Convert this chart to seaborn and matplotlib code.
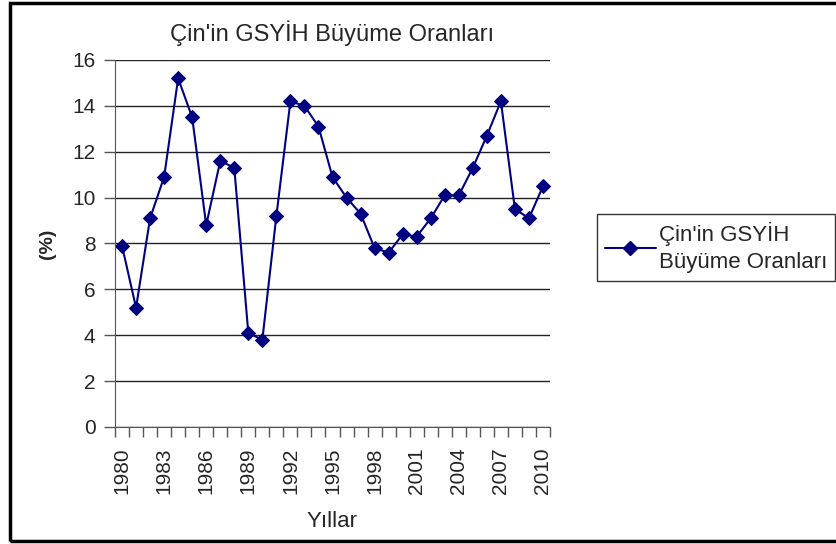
import numpy as np
import pandas as pd
import matplotlib
matplotlib.use("Agg")
import matplotlib.pyplot as plt
import seaborn as sns
from matplotlib.lines import Line2D
from matplotlib.ticker import MultipleLocator

# data
years = list(range(1980, 2011))
growth = [7.9, 5.2, 9.1, 10.9, 15.2, 13.5, 8.8, 11.6, 11.3, 4.1, 3.8,
          9.2, 14.2, 14.0, 13.1, 10.9, 10.0, 9.3, 7.8, 7.6, 8.4,
          8.3, 9.1, 10.1, 10.1, 11.3, 12.7, 14.2, 9.5, 9.1, 10.5]
label_years = [1980, 1983, 1986, 1989, 1992, 1995, 1998, 2001, 2004, 2007, 2010]
y_ticks = [0, 2, 4, 6, 8, 10, 12, 14, 16]

series_name = "Çin'in GSYİH Büyüme Oranları"
legend_label = "Çin'in GSYİH\nBüyüme Oranları"

df = pd.DataFrame({"year": years, "growth": growth})

sns.set_style("white")
plt.rcParams['font.family'] = ['Liberation Sans', 'DejaVu Sans']

fig = plt.figure(figsize=(8.36, 5.44), dpi=100)
ax = fig.add_axes([115/836, 1 - 427/544, (550 - 115)/836, (427 - 60)/544])

sns.lineplot(data=df, x="year", y="growth", ax=ax, color="#000080",
             marker="D", markersize=7, markeredgecolor="#000080",
             linewidth=1.5, label=legend_label, legend=False)

ax.set_xlim(years[0] - 0.5, years[-1] + 0.5)
ax.set_ylim(0, 16)
ax.set_yticks(y_ticks)
ax.yaxis.grid(True, color="#222222", linewidth=1)
ax.set_axisbelow(True)

ax.set_xticks(label_years)
ax.set_xticklabels([str(y) for y in label_years], rotation=90, fontsize=15)
ax.tick_params(axis='x', which='major', length=0, pad=15)
ax.xaxis.set_minor_locator(MultipleLocator(1, offset=0.5))
ax.tick_params(axis='x', which='minor', length=7, width=1, color="#555555",
               direction='out', bottom=True)
ax.tick_params(axis='y', length=8, width=1, color="#555555", labelsize=15, pad=6, left=True)

for s in ['top', 'right']:
    ax.spines[s].set_visible(False)
ax.spines['left'].set_color("#555555")
ax.spines['bottom'].set_color("#555555")

ax.set_title(series_name, fontsize=17, pad=14)
ax.set_xlabel("Yıllar", fontsize=16, labelpad=12)
ax.set_ylabel("(%)", fontsize=14, fontweight='bold', labelpad=12)

handle = Line2D([], [], color="#000080", marker="D", markersize=7, linewidth=1.5)
leg = fig.legend([handle], [legend_label], loc='upper left',
                 bbox_to_anchor=(597/836, 1 - 214/544), fontsize=16,
                 frameon=True, fancybox=False, edgecolor="black",
                 handlelength=2.3, handletextpad=0.15, borderpad=0.35,
                 borderaxespad=0)
leg.get_frame().set_linewidth(1)
leg.get_texts()[0].set_linespacing(1.4)

# outer chart frame (right side is cropped in the reference)
fig.patches.append(plt.Rectangle((10/836, 3/544), 1.0, 1 - 6/544,
                                 transform=fig.transFigure, fill=False,
                                 edgecolor="black", linewidth=2.5))

fig.savefig("out.png", dpi=100)
